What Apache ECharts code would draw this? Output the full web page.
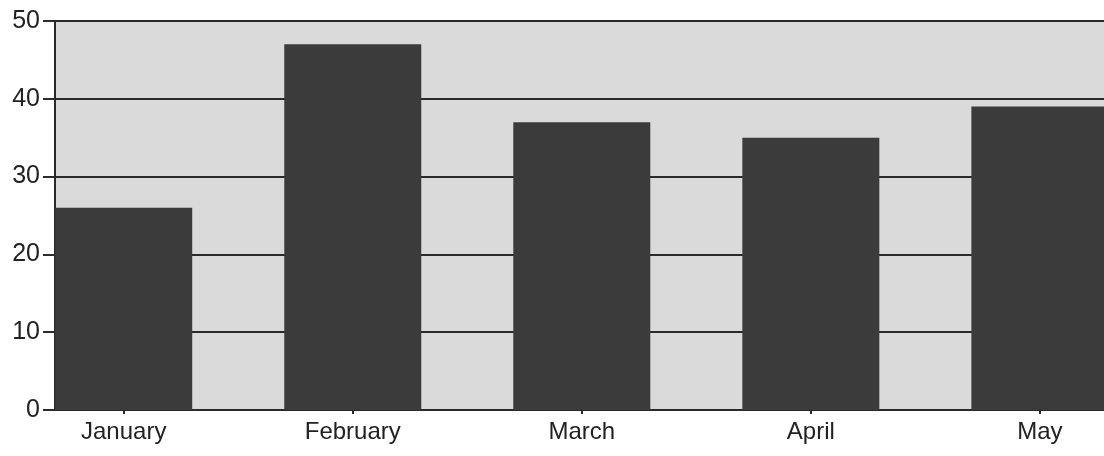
<!DOCTYPE html>
<html>
<head>
<meta charset="utf-8">
<script src="https://cdn.jsdelivr.net/npm/echarts@6/dist/echarts.min.js"></script>
<style>
  html, body { margin: 0; padding: 0; background: #fff; }
  #chart { width: 1104px; height: 456px; }
</style>
</head>
<body>
<div id="chart"></div>
<script>
// months on the x axis
var months = ["January", "February", "March", "April", "May"];
// bar heights
var values = [26, 47, 37, 35, 39];
// y ticks
var yTicks = [0, 10, 20, 30, 40, 50];

var chart = echarts.init(document.getElementById("chart"));

// bars sit on a value axis so the first bar can touch the y axis
var barData = values.map(function (v, i) {
  return [i, v];
});
var positions = months.map(function (m, i) {
  return i;
});

var option = {
  animation: false,
  backgroundColor: "#ffffff",
  grid: {
    left: 55,
    right: 0,
    top: 21,
    bottom: 46,
    show: true,
    backgroundColor: "#dadada",
    borderWidth: 0,
  },
  xAxis: {
    type: "value",
    min: -0.3,
    max: 4.28,
    splitLine: { show: false },
    axisLine: { show: true, onZero: false, lineStyle: { color: "#2a2a2a", width: 2 } },
    axisTick: {
      show: true,
      customValues: positions,
      length: 4,
      lineStyle: { color: "#2a2a2a", width: 2 },
    },
    axisLabel: {
      customValues: positions,
      margin: 10,
      fontFamily: "Liberation Sans, Arial, sans-serif",
      fontSize: 24,
      color: "#222",
      formatter: function (v) {
        return months[Math.round(v)];
      },
    },
  },
  yAxis: {
    type: "value",
    min: yTicks[0],
    max: yTicks[yTicks.length - 1],
    interval: 10,
    axisLine: { show: true, onZero: false, lineStyle: { color: "#2a2a2a", width: 2 } },
    axisTick: { show: true, length: 12, lineStyle: { color: "#2a2a2a", width: 2 } },
    axisLabel: {
      margin: 15,
      fontFamily: "Liberation Sans, Arial, sans-serif",
      fontSize: 25,
      color: "#222",
    },
    splitLine: { show: true, lineStyle: { color: "#2a2a2a", width: 2 } },
  },
  series: [
    {
      type: "bar",
      data: barData,
      barWidth: 137,
      itemStyle: { color: "#3b3b3b" },
    },
  ],
};

chart.setOption(option);
</script>
</body>
</html>
